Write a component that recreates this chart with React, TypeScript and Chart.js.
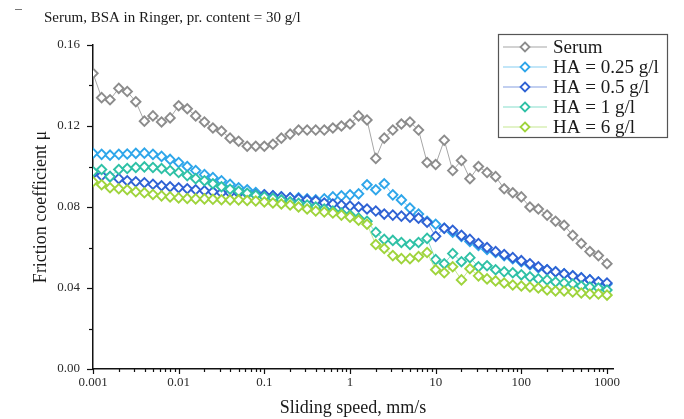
import { useEffect, useRef } from "react";
import { Chart, registerables } from "chart.js";

Chart.register(...registerables);

// Sliding speeds (mm/s), ten steps per decade
const speed = [
  0.001, 0.00126, 0.00158, 0.002, 0.00251, 0.00316, 0.00398, 0.00501, 0.00631, 0.00794,
  0.01, 0.0126, 0.0158, 0.02, 0.0251, 0.0316, 0.0398, 0.0501, 0.0631, 0.0794,
  0.1, 0.126, 0.158, 0.2, 0.251, 0.316, 0.398, 0.501, 0.631, 0.794,
  1, 1.26, 1.58, 2, 2.51, 3.16, 3.98, 5.01, 6.31, 7.94,
  10, 12.6, 15.8, 20, 25.1, 31.6, 39.8, 50.1, 63.1, 79.4,
  100, 126, 158, 200, 251, 316, 398, 501, 631, 794,
  1000,
];

const serum = [
  0.146, 0.134, 0.133, 0.1386, 0.137, 0.132, 0.1224, 0.125, 0.122, 0.124,
  0.13, 0.1285, 0.125, 0.122, 0.119, 0.1175, 0.114, 0.1125, 0.11, 0.11,
  0.11, 0.111, 0.114, 0.116, 0.118, 0.118, 0.118, 0.118, 0.119, 0.12,
  0.121, 0.125, 0.123, 0.104, 0.114, 0.118, 0.121, 0.122, 0.118, 0.102,
  0.101, 0.113, 0.098, 0.103, 0.094, 0.1, 0.097, 0.095, 0.089, 0.087,
  0.085, 0.08, 0.079, 0.076, 0.073, 0.071, 0.066, 0.062, 0.058, 0.056,
  0.052,
];

const ha025 = [
  0.1065, 0.106, 0.1056, 0.106, 0.1062, 0.1065, 0.1066, 0.106, 0.105, 0.1035,
  0.102, 0.1, 0.098, 0.096, 0.0945, 0.093, 0.0912, 0.0895, 0.0885, 0.0872,
  0.086, 0.0855, 0.085, 0.0845, 0.0845, 0.084, 0.0835, 0.084, 0.085, 0.0855,
  0.086, 0.0865, 0.091, 0.0885, 0.0915, 0.086, 0.0835, 0.0795, 0.0765, 0.073,
  0.0715, 0.0695, 0.0675, 0.0655, 0.063, 0.061, 0.059, 0.0575, 0.056, 0.0545,
  0.053, 0.0515, 0.05, 0.049, 0.048, 0.047, 0.046, 0.045, 0.044, 0.043,
  0.042,
];

const ha05 = [
  0.0965, 0.0955, 0.095, 0.094, 0.093, 0.0925, 0.092, 0.0912, 0.0905, 0.09,
  0.0895, 0.089, 0.0885, 0.088, 0.0875, 0.087, 0.087, 0.0868, 0.0865, 0.086,
  0.086, 0.0855, 0.085, 0.0845, 0.084, 0.0835, 0.083, 0.082, 0.0815, 0.081,
  0.0805, 0.08, 0.079, 0.078, 0.0765, 0.076, 0.0755, 0.075, 0.0745, 0.0725,
  0.0655, 0.0695, 0.0685, 0.066, 0.064, 0.062, 0.06, 0.058, 0.0565, 0.055,
  0.0535, 0.052, 0.0505, 0.049, 0.048, 0.047, 0.046, 0.045, 0.044, 0.043,
  0.0425,
];

const ha1 = [
  0.0975, 0.0985, 0.095, 0.0985, 0.099, 0.0995, 0.0998, 0.0995, 0.099, 0.098,
  0.097, 0.0955, 0.094, 0.093, 0.0915, 0.09, 0.0888, 0.0878, 0.0868, 0.0858,
  0.085, 0.0843, 0.0835, 0.0826, 0.0818, 0.081, 0.08, 0.079, 0.078, 0.077,
  0.076, 0.0745, 0.073, 0.0675, 0.064, 0.0635, 0.0625, 0.0615, 0.0625, 0.0645,
  0.054, 0.052, 0.057, 0.053, 0.055, 0.0505, 0.051, 0.049, 0.048, 0.0475,
  0.0465, 0.0455, 0.0445, 0.044, 0.043, 0.0425, 0.042, 0.041, 0.0405, 0.04,
  0.039,
];

const ha6 = [
  0.0925, 0.091, 0.0895, 0.089, 0.0885, 0.0875, 0.087, 0.0862, 0.0855, 0.085,
  0.0845, 0.0842, 0.084, 0.084, 0.0838, 0.0836, 0.0835, 0.0835, 0.0832, 0.083,
  0.0825, 0.082, 0.0815, 0.081, 0.08, 0.079, 0.078, 0.0775, 0.077, 0.076,
  0.075, 0.0735, 0.0715, 0.0615, 0.0595, 0.056, 0.0545, 0.0545, 0.0555, 0.0575,
  0.049, 0.0475, 0.0505, 0.044, 0.0495, 0.046, 0.0445, 0.0435, 0.0425, 0.0415,
  0.041, 0.0405, 0.04, 0.039, 0.0385, 0.0385, 0.038, 0.0375, 0.037, 0.037,
  0.0365,
];

const seriesNames = ["Serum", "HA = 0.25 g/l", "HA = 0.5 g/l", "HA = 1 g/l", "HA = 6 g/l"];
const seriesValues = [serum, ha025, ha05, ha1, ha6];
const markerColors = ["#8c8c8c", "#2ea6ea", "#2f62d4", "#2fc1a6", "#9fd43c"];
const lineColors = ["#a6a6a6", "#86cdf2", "#859fe2", "#86ddcb", "#c6e792"];

const xTickValues = [0.001, 0.01, 0.1, 1, 10, 100, 1000];
const chartTitle = "Serum, BSA in Ringer, pr. content = 30 g/l";
const xTitle = "Sliding speed, mm/s";
const yTitle = "Friction coefficient μ";

const SERIF = "'Liberation Serif', 'Times New Roman', serif";

function drawDiamond(ctx: CanvasRenderingContext2D, x: number, y: number, r: number, color: string) {
  ctx.beginPath();
  ctx.moveTo(x, y - r);
  ctx.lineTo(x + r, y);
  ctx.lineTo(x, y + r);
  ctx.lineTo(x - r, y);
  ctx.closePath();
  ctx.fillStyle = "#ffffff";
  ctx.fill();
  ctx.lineWidth = 1.8;
  ctx.strokeStyle = color;
  ctx.stroke();
}

// Title, axis tick marks and the boxed legend
const decorations = {
  id: "decorations",
  afterDraw(chart: any) {
    const ctx: CanvasRenderingContext2D = chart.ctx;
    const xs = chart.scales.x;
    const ys = chart.scales.y;
    const area = chart.chartArea;
    ctx.save();

    // small mark in the top-left corner
    ctx.strokeStyle = "#777";
    ctx.lineWidth = 1;
    ctx.beginPath();
    ctx.moveTo(15, 9.5);
    ctx.lineTo(22, 9.5);
    ctx.stroke();

    // chart title
    ctx.fillStyle = "#1a1a1a";
    ctx.font = `15px ${SERIF}`;
    ctx.textAlign = "left";
    ctx.textBaseline = "middle";
    ctx.fillText(chartTitle, 44, 18);

    // y tick marks (major with labels, minor between)
    ctx.strokeStyle = "#111";
    ctx.lineWidth = 1.2;
    for (let i = 0; i <= 8; i++) {
      const v = i * 0.02;
      const py = Math.round(ys.getPixelForValue(v)) + 0.5;
      const len = i % 2 === 0 ? 6 : 4;
      ctx.beginPath();
      ctx.moveTo(area.left, py);
      ctx.lineTo(area.left - len, py);
      ctx.stroke();
    }

    // x tick marks on the log axis
    for (let d = -3; d <= 3; d++) {
      for (let m = 1; m <= 9; m++) {
        const v = m * Math.pow(10, d);
        if (v > xs.max) break;
        const px = Math.round(xs.getPixelForValue(v)) + 0.5;
        const len = m === 1 ? 5 : 3;
        ctx.beginPath();
        ctx.moveTo(px, area.bottom);
        ctx.lineTo(px, area.bottom + len);
        ctx.stroke();
      }
    }

    // legend box
    const bx = 498, by = 34, bw = 169, bh = 103;
    ctx.fillStyle = "#ffffff";
    ctx.fillRect(bx, by, bw, bh);
    ctx.strokeStyle = "#555";
    ctx.lineWidth = 1.2;
    ctx.strokeRect(bx + 0.5, by + 0.5, bw, bh);
    ctx.font = `19px ${SERIF}`;
    ctx.textBaseline = "middle";
    seriesNames.forEach((name, i) => {
      const ry = by + 13 + i * 20;
      ctx.strokeStyle = lineColors[i];
      ctx.lineWidth = 1.2;
      ctx.beginPath();
      ctx.moveTo(bx + 5, ry);
      ctx.lineTo(bx + 49, ry);
      ctx.stroke();
      drawDiamond(ctx, bx + 27, ry, 4.5, markerColors[i]);
      ctx.fillStyle = "#1a1a1a";
      ctx.fillText(name, bx + 55, ry + 1);
    });

    ctx.restore();
  },
};

export default function App() {
  const canvasRef = useRef<HTMLCanvasElement | null>(null);

  useEffect(() => {
    if (!canvasRef.current) return;
    const datasets = seriesValues.map((vals, i) => ({
      label: seriesNames[i],
      data: speed.map((s, k) => ({ x: s, y: vals[k] })),
      borderColor: lineColors[i],
      borderWidth: 1,
      pointStyle: "rectRot" as const,
      pointRadius: 4.7,
      pointBorderWidth: 1.9,
      pointBorderColor: markerColors[i],
      pointBackgroundColor: "#ffffff",
      tension: 0,
      order: 5 - i,
    }));

    const chart = new Chart(canvasRef.current, {
      type: "line",
      data: { datasets },
      options: {
        animation: false,
        responsive: false,
        devicePixelRatio: 1,
        layout: { padding: { top: 45, right: 71, bottom: 0, left: 0 } },
        plugins: { legend: { display: false }, tooltip: { enabled: false }, title: { display: false } },
        scales: {
          x: {
            type: "logarithmic",
            min: 0.001,
            max: 1175,
            grid: { display: false, drawTicks: false },
            border: { display: true, color: "#111", width: 1.5 },
            afterBuildTicks: (scale: any) => {
              scale.ticks = xTickValues.map((v) => ({ value: v }));
            },
            afterFit: (scale: any) => {
              scale.height = 50;
            },
            ticks: {
              autoSkip: false,
              maxRotation: 0,
              padding: 6,
              color: "#2a2a2a",
              font: { family: SERIF, size: 13 },
              callback: (v: any) => String(v),
            },
            title: {
              display: true,
              text: xTitle,
              color: "#1a1a1a",
              font: { family: SERIF, size: 18 },
              padding: { top: 0, bottom: 0 },
            },
          },
          y: {
            type: "linear",
            min: 0,
            max: 0.16,
            grid: { display: false, drawTicks: false },
            border: { display: true, color: "#111", width: 1.5 },
            afterFit: (scale: any) => {
              scale.width = 93;
            },
            ticks: {
              stepSize: 0.04,
              padding: 13,
              color: "#2a2a2a",
              font: { family: SERIF, size: 13 },
              callback: (v: any) => Number(v).toFixed(2),
            },
            title: {
              display: true,
              text: yTitle,
              color: "#1a1a1a",
              font: { family: SERIF, size: 18 },
              padding: { top: 30, bottom: 0 },
            },
          },
        },
      },
      plugins: [decorations],
    });
    return () => chart.destroy();
  }, []);

  return (
    <div style={{ position: "absolute", left: 0, top: 0, width: 684, height: 419, background: "#fff" }}>
      <canvas ref={canvasRef} width={684} height={419} style={{ display: "block" }} />
    </div>
  );
}
